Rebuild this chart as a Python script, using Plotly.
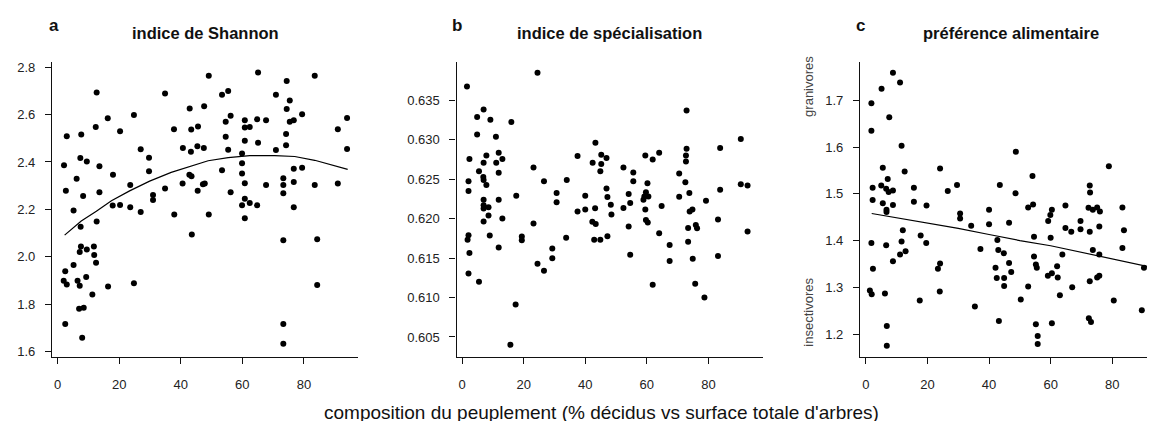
import plotly.graph_objects as go

# ---------------- data ----------------
shannon_x = [12.7, 3.0, 7.7, 16.3, 12.4, 20.3, 24.8, 34.9, 37.8, 42.9, 43.4, 45.6, 47.6,
             2.1, 7.4, 9.5, 13.6, 6.2, 2.7, 8.3, 13.6, 18.0, 27.0, 29.7, 29.7, 23.6, 31.0, 31.0, 34.9,
             40.7, 43.3, 45.4, 47.5, 40.6, 42.8, 43.5, 45.5, 47.2, 47.8,
             5.2, 17.9, 20.3, 23.6, 27.0, 37.9, 12.7, 7.5, 43.6,
             7.6, 11.8, 9.5, 7.2, 11.9, 12.5, 5.2, 2.5, 9.3, 2.0, 6.5, 24.8,
             3.0, 7.2, 16.4, 7.0, 8.5, 2.5, 8.0, 11.3,
             49.1, 65.1, 74.4, 83.5, 53.4, 55.4, 70.9, 75.4, 74.4, 56.2, 79.4, 94.0, 94.0, 91.0,
             54.6, 60.8, 64.8, 67.7, 75.4, 76.7, 60.8, 62.4, 74.2, 54.6, 60.8, 65.1, 74.2,
             55.4, 59.9, 70.9, 59.9, 53.4, 59.9, 76.7, 79.4, 60.8, 67.7, 73.3, 73.3, 76.7, 83.5, 91.0,
             56.2, 73.3, 60.8, 59.9, 62.4, 64.8, 76.7, 49.1, 60.8, 73.3, 84.3, 84.3, 73.3, 73.3]
shannon_y = [2.693, 2.509, 2.516, 2.584, 2.548, 2.530, 2.598, 2.689, 2.538, 2.626, 2.537, 2.550, 2.635,
             2.386, 2.417, 2.402, 2.382, 2.329, 2.278, 2.256, 2.272, 2.346, 2.454, 2.418, 2.361, 2.303, 2.261, 2.239, 2.288,
             2.459, 2.443, 2.466, 2.459, 2.309, 2.346, 2.340, 2.278, 2.306, 2.309,
             2.195, 2.216, 2.218, 2.209, 2.189, 2.178, 2.149, 2.126, 2.094,
             2.043, 2.043, 2.030, 2.020, 2.007, 1.975, 1.965, 1.939, 1.914, 1.899, 1.899, 1.888,
             1.883, 1.877, 1.874, 1.780, 1.785, 1.716, 1.658, 1.840,
             2.764, 2.778, 2.742, 2.764, 2.684, 2.700, 2.684, 2.659, 2.623, 2.595, 2.601, 2.585, 2.455, 2.538,
             2.570, 2.576, 2.580, 2.576, 2.570, 2.576, 2.545, 2.548, 2.518, 2.506, 2.490, 2.481, 2.471,
             2.451, 2.436, 2.450, 2.394, 2.365, 2.351, 2.371, 2.376, 2.310, 2.303, 2.331, 2.303, 2.315, 2.303, 2.309,
             2.272, 2.268, 2.245, 2.217, 2.227, 2.217, 2.209, 2.178, 2.162, 2.070, 2.074, 1.881, 1.716, 1.633]
shannon_fit_x = [2.3, 7.7, 12.6, 17.5, 23.4, 29.9, 36.9, 44.0, 48.9, 55.4, 62.4, 70.5, 77.0, 83.5, 94.2]
shannon_fit_y = [2.091, 2.151, 2.192, 2.236, 2.278, 2.319, 2.356, 2.386, 2.405, 2.418, 2.427, 2.427, 2.423, 2.407, 2.369]

spec_x = [1.6, 24.5, 7.0, 4.9, 9.2, 16.0, 4.9, 11.0, 11.9, 7.9, 2.4, 13.1, 7.0, 11.1, 23.2, 5.5, 11.9,
          6.9, 7.0, 2.1, 7.9, 26.6, 34.0, 2.1, 30.7, 30.7, 17.6, 7.0, 11.9, 7.0, 8.6, 7.0, 8.6, 13.1,
          7.0, 23.2, 2.1, 1.8, 9.0, 19.4, 19.4, 33.8, 11.9, 29.3, 2.4, 29.3, 24.5, 26.6, 2.1, 5.5,
          17.4, 15.7, 61.9, 75.7, 78.7,
          72.9, 43.3, 90.5, 83.8, 72.9, 37.5, 45.2, 46.9, 59.5, 61.9, 64.0, 72.7, 72.7, 42.4, 45.2,
          44.9, 52.4, 55.6, 70.5, 55.6, 60.2, 72.5, 90.5, 92.7, 46.9, 83.8, 40.0, 47.2, 54.1, 59.7,
          59.2, 60.5, 58.9, 70.5, 73.8, 48.3, 54.6, 64.8, 79.2, 40.0, 37.5, 43.2, 52.4, 59.5, 48.5,
          73.9, 74.8, 42.3, 43.4, 59.7, 60.3, 54.1, 73.4, 75.9, 76.3, 83.1, 42.9, 44.9, 47.2, 64.0,
          92.7, 67.4, 73.4, 54.6, 67.4, 74.9, 83.1]
spec_y = [0.63675, 0.6385, 0.63384, 0.63288, 0.63255, 0.63226, 0.63068, 0.63038, 0.62835, 0.62801,
          0.62756, 0.62756, 0.6271, 0.6271, 0.62648, 0.62602, 0.62582, 0.62527, 0.6249, 0.62473,
          0.62427, 0.62473, 0.6249, 0.62352, 0.62324, 0.62208, 0.6229, 0.6224, 0.6224, 0.6217,
          0.62145, 0.6213, 0.6204, 0.62003, 0.61965, 0.6194, 0.6179, 0.61733, 0.61787, 0.61774,
          0.61725, 0.61758, 0.61634, 0.61621, 0.61566, 0.61497, 0.61429, 0.61338, 0.61304, 0.612,
          0.60913, 0.604, 0.61163, 0.61175, 0.610,
          0.63371, 0.62963, 0.6301, 0.62897, 0.62885, 0.62794, 0.6281, 0.62769, 0.62801, 0.62751,
          0.62835, 0.62801, 0.62726, 0.6271, 0.62694, 0.62602, 0.62648, 0.62585, 0.62573, 0.62473,
          0.62448, 0.6246, 0.62436, 0.6242, 0.62382, 0.62365, 0.6229, 0.62274, 0.62311, 0.62336,
          0.62282, 0.62282, 0.6224, 0.62277, 0.62324, 0.62177, 0.62199, 0.62161, 0.62227, 0.62115,
          0.6209, 0.62133, 0.62136, 0.62115, 0.62053, 0.6209, 0.62115, 0.61962, 0.61933, 0.61983,
          0.6195, 0.619, 0.61883, 0.61921, 0.61879, 0.6199, 0.61733, 0.61733, 0.61778, 0.61816,
          0.61837, 0.61666, 0.61708, 0.61541, 0.61463, 0.61491, 0.61525]

pref_x = [8.8, 5.1, 11.1, 1.8, 7.6, 1.8, 11.6, 5.5, 24.1, 12.6, 7.1, 2.2, 5.0, 6.6, 7.4, 8.8, 15.6,
          26.6, 29.6, 2.2, 5.5, 8.8, 15.6, 19.7, 6.7, 6.7, 30.6, 30.6, 12.0, 17.8, 1.8, 6.6, 11.6,
          19.6, 12.9, 11.1, 8.8, 24.1, 23.4, 2.3,
          43.5, 48.6, 72.7, 72.8, 34.2, 40.0, 40.0, 46.5, 52.7, 54.3, 60.4, 59.9, 59.2, 64.8, 64.8,
          66.7, 69.7, 69.7, 72.7, 72.3, 73.7, 75.1, 76.0, 75.8, 83.3, 83.8, 37.2, 42.7, 43.0, 44.8,
          54.6, 60.0, 54.6, 55.2, 55.5, 63.8, 73.7, 75.8, 83.3, 42.1, 46.5, 47.2, 42.5, 44.9, 59.1,
          60.4, 62.1, 62.3, 72.7, 75.1, 75.8, 90.3, 93.4, 93.4,
          48.7, 78.9, 54.1, 44.9, 52.7, 67.0,
          1.3, 1.9, 6.2, 6.8, 6.8, 17.5, 24.0, 35.4, 43.2, 50.3, 55.2, 55.8, 55.8, 60.4, 63.0,
          72.4, 73.1, 80.5, 89.6]
pref_y = [1.759, 1.725, 1.738, 1.694, 1.664, 1.635, 1.603, 1.556, 1.554, 1.548, 1.532, 1.513, 1.518,
          1.511, 1.504, 1.507, 1.513, 1.506, 1.519, 1.487, 1.480, 1.476, 1.483, 1.475, 1.466, 1.461,
          1.458, 1.447, 1.422, 1.411, 1.395, 1.390, 1.398, 1.395, 1.377, 1.370, 1.356, 1.351, 1.340, 1.340,
          1.519, 1.501, 1.518, 1.503, 1.432, 1.466, 1.435, 1.438, 1.471, 1.477, 1.466, 1.455, 1.442,
          1.475, 1.427, 1.419, 1.442, 1.424, 1.419, 1.470, 1.466, 1.471, 1.462, 1.430, 1.471, 1.422,
          1.382, 1.401, 1.380, 1.373, 1.408, 1.406, 1.366, 1.349, 1.342, 1.370, 1.380, 1.370, 1.384,
          1.342, 1.352, 1.333, 1.320, 1.320, 1.325, 1.330, 1.345, 1.321, 1.313, 1.321, 1.325, 1.342,
          1.358, 1.316,
          1.590, 1.559, 1.538, 1.303, 1.302, 1.300,
          1.293, 1.285, 1.287, 1.217, 1.175, 1.272, 1.291, 1.259, 1.228, 1.274, 1.221, 1.196, 1.179,
          1.223, 1.283, 1.234, 1.226, 1.272, 1.251]
pref_fit_x = [1.9, 10, 20, 30, 40, 50, 60, 70, 80, 93.4]
pref_fit_y = [1.458, 1.449, 1.437, 1.426, 1.413, 1.400, 1.389, 1.375, 1.362, 1.342]

x_ticks = [0, 20, 40, 60, 80]
shannon_ticks = [1.6, 1.8, 2.0, 2.2, 2.4, 2.6, 2.8]
spec_ticks = [0.605, 0.610, 0.615, 0.620, 0.625, 0.630, 0.635]
pref_ticks = [1.2, 1.3, 1.4, 1.5, 1.6, 1.7]

panel_titles = ["indice de Shannon", "indice de spécialisation", "préférence alimentaire"]
panel_letters = ["a", "b", "c"]
x_title = "composition du peuplement (% décidus vs surface totale d'arbres)"

# ---------------- figure ----------------
W, H = 1155, 421
FONT = "Liberation Sans, Arial, sans-serif"


def px(v):
    return v / W


def py(v):
    return 1 - v / H


fig = go.Figure()
mk = dict(color="black", size=6)
fig.add_trace(go.Scatter(x=shannon_x, y=shannon_y, mode="markers", marker=mk, xaxis="x", yaxis="y"))
fig.add_trace(go.Scatter(x=shannon_fit_x, y=shannon_fit_y, mode="lines",
                         line=dict(color="black", width=1.2), xaxis="x", yaxis="y"))
fig.add_trace(go.Scatter(x=spec_x, y=spec_y, mode="markers", marker=mk, xaxis="x2", yaxis="y2"))
fig.add_trace(go.Scatter(x=pref_x, y=pref_y, mode="markers", marker=mk, xaxis="x3", yaxis="y3"))
fig.add_trace(go.Scatter(x=pref_fit_x, y=pref_fit_y, mode="lines",
                         line=dict(color="black", width=1.2), xaxis="x3", yaxis="y3"))

ydom = [py(350.5), py(52)]
axis_common = dict(showline=True, linecolor="#111", linewidth=1.2, ticks="outside", ticklen=6,
                   tickcolor="#111", tickwidth=1.2, showgrid=False, zeroline=False,
                   tickfont=dict(family=FONT, size=13, color="#222"))

xdoms = [[px(44), px(350)], [px(448.5), px(754.5)], [px(852), 1.0]]
xranges = [[-1.8, 97.55], [-1.8, 97.55], [-1.9, 96.48]]
yranges = [[1.5788, 2.8208], [0.60252, 0.63983], [1.152, 1.7815]]
yticks = [shannon_ticks, spec_ticks, pref_ticks]
yfmt = [".1f", ".3f", ".1f"]

for i in range(3):
    sfx = "" if i == 0 else str(i + 1)
    fig.update_layout({
        "xaxis" + sfx: dict(axis_common, domain=xdoms[i], range=xranges[i], tickvals=x_ticks,
                            anchor="y" + sfx, ticklabelstandoff=10),
        "yaxis" + sfx: dict(axis_common, domain=ydom, range=yranges[i], tickvals=yticks[i],
                            tickformat=yfmt[i], anchor="x" + sfx, ticklabelstandoff=7),
    })

title_cx = [197, 601, 1003]
letter_cx = [46, 448.5, 852]
ann = []
for i in range(3):
    ann.append(dict(text="<b>" + panel_titles[i] + "</b>", x=px(title_cx[i]), y=py(22),
                    xref="paper", yref="paper", showarrow=False, xanchor="center", yanchor="middle",
                    font=dict(family=FONT, size=16.5, color="#111")))
    ann.append(dict(text="<b>" + panel_letters[i] + "</b>", x=px(letter_cx[i]), y=py(15),
                    xref="paper", yref="paper", showarrow=False, xanchor="center", yanchor="middle",
                    font=dict(family=FONT, size=17, color="#111")))
ann.append(dict(text=x_title, x=px(593), y=py(407), xref="paper", yref="paper", showarrow=False,
                xanchor="center", yanchor="middle", font=dict(family=FONT, size=19, color="#111")))
ann.append(dict(text="granivores", x=px(801), y=py(77), xref="paper", yref="paper", showarrow=False,
                textangle=-90, xanchor="center", yanchor="middle",
                font=dict(family=FONT, size=13, color="#444")))
ann.append(dict(text="insectivores", x=px(801), y=py(306), xref="paper", yref="paper", showarrow=False,
                textangle=-90, xanchor="center", yanchor="middle",
                font=dict(family=FONT, size=13, color="#444")))

fig.update_layout(width=W, height=H, margin=dict(l=0, r=0, t=0, b=0), showlegend=False,
                  paper_bgcolor="white", plot_bgcolor="white", annotations=ann,
                  font=dict(family=FONT))
fig.write_html("out.html")
